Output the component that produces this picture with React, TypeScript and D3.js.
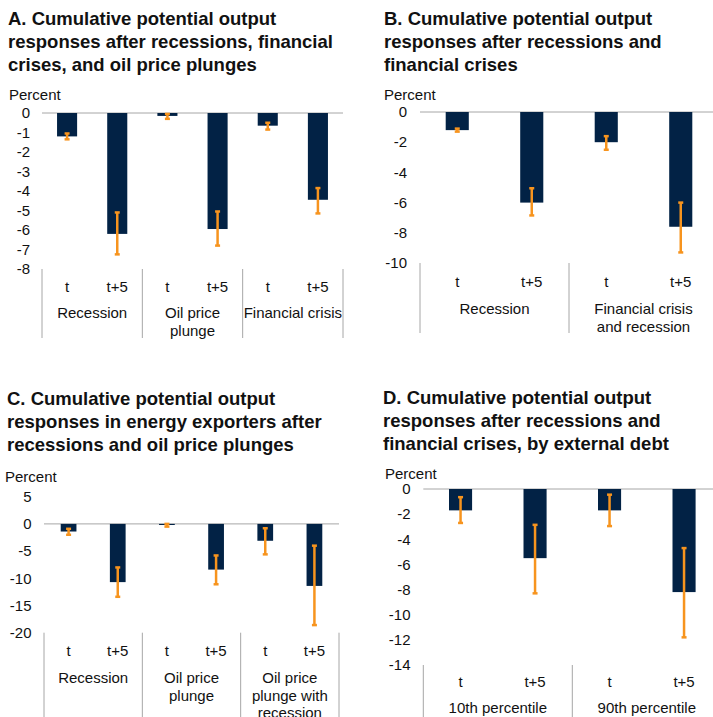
import React from "react";
import * as d3 from "d3";

// ---------- DATA ----------
const barLabels = ["t", "t+5"];

const groupsA = ["Recession", "Oil price\nplunge", "Financial crisis"];
const valuesA = [-1.2, -6.2, -0.15, -5.95, -0.65, -4.45];
const upperA = [-1.05, -5.1, -0.05, -5.05, -0.5, -3.85];
const lowerA = [-1.35, -7.25, -0.3, -6.8, -0.85, -5.15];
const ticksA = [0, -1, -2, -3, -4, -5, -6, -7, -8];

const groupsB = ["Recession", "Financial crisis\nand recession"];
const valuesB = [-1.2, -6.0, -2.0, -7.6];
const upperB = [-1.1, -5.05, -1.6, -6.0];
const lowerB = [-1.3, -6.85, -2.5, -9.3];
const ticksB = [0, -2, -4, -6, -8, -10];

const groupsC = ["Recession", "Oil price\nplunge", "Oil price\nplunge with\nrecession"];
const valuesC = [-1.4, -10.7, -0.2, -8.4, -3.1, -11.4];
const upperC = [-0.9, -8.0, 0, -5.8, -0.8, -4.0];
const lowerC = [-2.0, -13.4, -0.5, -11.1, -5.6, -18.6];
const ticksC = [5, 0, -5, -10, -15, -20];

const groupsD = ["10th percentile", "90th percentile"];
const valuesD = [-1.7, -5.5, -1.7, -8.2];
const upperD = [-0.65, -2.85, -0.45, -4.7];
const lowerD = [-2.7, -8.3, -2.95, -11.8];
const ticksD = [0, -2, -4, -6, -8, -10, -12, -14];

const titleA = ["A. Cumulative potential output", "responses after recessions, financial", "crises, and oil price plunges"];
const titleB = ["B. Cumulative potential output", "responses after recessions and", "financial crises"];
const titleC = ["C. Cumulative potential output", "responses in energy exporters after", "recessions and oil price plunges"];
const titleD = ["D. Cumulative potential output", "responses after recessions and", "financial crises, by external debt"];

// ---------- STYLE ----------
const FONT = "Arial, 'Liberation Sans', Helvetica, sans-serif";
const NAVY = "#022245";
const ORANGE = "#F7941E";
const GRAY = "#A6A6A6";
const FS = 15;

type PanelProps = {
  title: string[];
  titleX: number;
  titleY: number;
  groups: string[];
  values: number[];
  upper: number[];
  lower: number[];
  ticks: number[];
  domain: [number, number];
  yRange: [number, number];
  xRange: [number, number];
  tickRight: number;
  percentX: number;
  percentY: number;
  barFrac: number;
  catY: number;
  groupY: number;
  sepBottom: number;
  sepRight: boolean;
};

function Panel(p: PanelProps) {
  const y = d3.scaleLinear().domain(p.domain).range(p.yRange);
  const ids = p.values.map((_, i) => String(i));
  const x = d3.scaleBand<string>().domain(ids).range(p.xRange).paddingInner(0).paddingOuter(0);
  const gx = d3.scaleBand<string>().domain(p.groups).range(p.xRange).padding(0);
  const bw = x.bandwidth() * p.barFrac;
  const y0 = y(0);
  const yBottom = y(p.domain[0]);
  const seps = p.groups.map((g) => gx(g) as number);
  if (p.sepRight) seps.push(p.xRange[1]);
  return (
    <g>
      {p.title.map((t, i) => (
        <text key={i} x={p.titleX} y={p.titleY + i * 23} fontSize={18.5} fontWeight="bold" fill="#111">
          {t}
        </text>
      ))}
      <text x={p.percentX} y={p.percentY} fontSize={FS} fill="#111">
        Percent
      </text>
      {p.ticks.map((t) => (
        <text key={t} x={p.tickRight} y={y(t)} dy="0.35em" fontSize={FS} textAnchor="end" fill="#111">
          {t}
        </text>
      ))}
      <line x1={p.xRange[0]} x2={p.xRange[1]} y1={y0} y2={y0} stroke={GRAY} strokeWidth={1} />
      {p.values.map((v, i) => {
        const cx = (x(String(i)) as number) + x.bandwidth() / 2;
        return (
          <rect
            key={"b" + i}
            x={cx - bw / 2}
            width={bw}
            y={Math.min(y(v), y0)}
            height={Math.abs(y(v) - y0)}
            fill={NAVY}
          />
        );
      })}
      {p.values.map((_, i) => {
        const cx = (x(String(i)) as number) + x.bandwidth() / 2;
        const a = y(p.upper[i]);
        const b = y(p.lower[i]);
        return (
          <g key={"e" + i} stroke={ORANGE}>
            <line x1={cx} x2={cx} y1={a} y2={b} strokeWidth={2.5} />
            <line x1={cx - 2.5} x2={cx + 2.5} y1={a} y2={a} strokeWidth={2.5} />
            <line x1={cx - 2.5} x2={cx + 2.5} y1={b} y2={b} strokeWidth={2.5} />
          </g>
        );
      })}
      {seps.map((sx, i) => (
        <line key={"s" + i} x1={sx} x2={sx} y1={yBottom} y2={p.sepBottom} stroke={GRAY} strokeWidth={1} />
      ))}
      {p.values.map((_, i) => {
        const cx = (x(String(i)) as number) + x.bandwidth() / 2;
        return (
          <text key={"c" + i} x={cx} y={p.catY} fontSize={FS} textAnchor="middle" fill="#111">
            {barLabels[i % 2]}
          </text>
        );
      })}
      {p.groups.map((g) => {
        const cx = (gx(g) as number) + gx.bandwidth() / 2;
        return (
          <text key={g} x={cx} y={p.groupY} fontSize={FS} textAnchor="middle" fill="#111">
            {g.split("\n").map((ln, j) => (
              <tspan key={j} x={cx} dy={j === 0 ? 0 : 17.5}>
                {ln}
              </tspan>
            ))}
          </text>
        );
      })}
    </g>
  );
}

export default function App() {
  return (
    <svg
      width={713}
      height={717}
      style={{ position: "absolute", left: 0, top: 0, background: "#fff" }}
      fontFamily={FONT}
    >
      <rect width={713} height={717} fill="#fff" />
      <Panel
        title={titleA}
        titleX={8}
        titleY={25}
        groups={groupsA}
        values={valuesA}
        upper={upperA}
        lower={lowerA}
        ticks={ticksA}
        domain={[-8, 0]}
        yRange={[269, 113]}
        xRange={[42, 343]}
        tickRight={30}
        percentX={9}
        percentY={100}
        barFrac={0.4}
        catY={292}
        groupY={318}
        sepBottom={338}
        sepRight={true}
      />
      <Panel
        title={titleB}
        titleX={384}
        titleY={25}
        groups={groupsB}
        values={valuesB}
        upper={upperB}
        lower={lowerB}
        ticks={ticksB}
        domain={[-10, 0]}
        yRange={[263, 112]}
        xRange={[420, 718]}
        tickRight={407}
        percentX={384}
        percentY={100}
        barFrac={0.31}
        catY={287}
        groupY={314}
        sepBottom={333}
        sepRight={false}
      />
      <Panel
        title={titleC}
        titleX={7}
        titleY={405}
        groups={groupsC}
        values={valuesC}
        upper={upperC}
        lower={lowerC}
        ticks={ticksC}
        domain={[-20, 5]}
        yRange={[632.7, 496.7]}
        xRange={[44, 339]}
        tickRight={31.5}
        percentX={5}
        percentY={482}
        barFrac={0.32}
        catY={656}
        groupY={683}
        sepBottom={717}
        sepRight={true}
      />
      <Panel
        title={titleD}
        titleX={383}
        titleY={404}
        groups={groupsD}
        values={valuesD}
        upper={upperD}
        lower={lowerD}
        ticks={ticksD}
        domain={[-14, 0]}
        yRange={[665, 489]}
        xRange={[423.3, 721.3]}
        tickRight={410.5}
        percentX={385}
        percentY={479}
        barFrac={0.31}
        catY={687}
        groupY={713}
        sepBottom={717}
        sepRight={false}
      />
    </svg>
  );
}
